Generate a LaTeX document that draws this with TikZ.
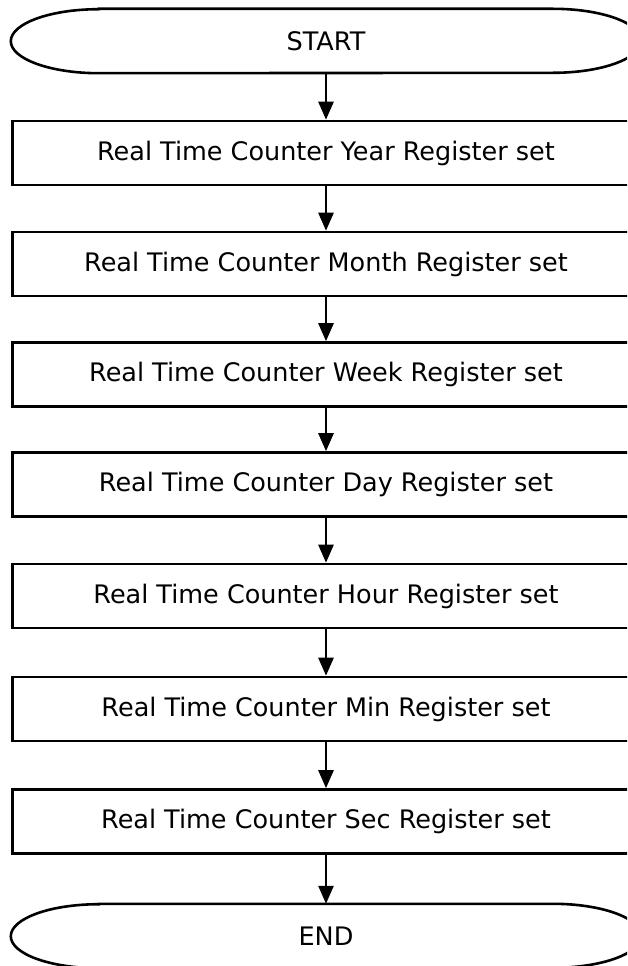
\documentclass[tikz,border=0pt]{standalone}
\usepackage{fontspec}
\setmainfont{DejaVu Sans}
\usetikzlibrary{arrows.meta}
\begin{document}
\begin{tikzpicture}[x=1pt,y=-1pt,
  every node/.style={font=\fontsize{25.5}{28}\selectfont},
  procbox/.style={draw=black,line width=2.6pt,minimum width=627pt,minimum height=64pt,inner sep=0pt},
  termnode/.style={minimum width=630pt,minimum height=64pt,inner sep=0pt},
  termline/.style={draw=black,line width=2.6pt},
  flow/.style={draw=black,line width=2.6pt,-{Triangle[width=15pt,length=18pt]}}]
\clip (0,0) rectangle (627,966);
\fill[white] (0,0) rectangle (627,966);

\node[termnode] (start) at (326,41) {START};
\node[procbox] (b1) at (326,153) {Real Time Counter Year Register set};
\node[procbox] (b2) at (326,264) {Real Time Counter Month Register set};
\node[procbox] (b3) at (326,374.5) {Real Time Counter Week Register set};
\node[procbox] (b4) at (326,484.5) {Real Time Counter Day Register set};
\node[procbox] (b5) at (326,596) {Real Time Counter Hour Register set};
\node[procbox] (b6) at (326,709) {Real Time Counter Min Register set};
\node[procbox] (b7) at (326,821.5) {Real Time Counter Sec Register set};
\node[termnode] (end) at (326,936) {END};

\foreach \t in {start,end}{
  \draw[termline] ([xshift=88pt]\t.north west) -- ([xshift=-88pt]\t.north east)
    arc[start angle=90,end angle=-90,x radius=88pt,y radius=32pt]
    -- ([xshift=88pt]\t.south west)
    arc[start angle=270,end angle=90,x radius=88pt,y radius=32pt] -- cycle;
}

\draw[flow] (start.south) -- (b1.north);
\draw[flow] (b1.south) -- (b2.north);
\draw[flow] (b2.south) -- (b3.north);
\draw[flow] (b3.south) -- (b4.north);
\draw[flow] (b4.south) -- (b5.north);
\draw[flow] (b5.south) -- (b6.north);
\draw[flow] (b6.south) -- (b7.north);
\draw[flow] (b7.south) -- (end.north);
\end{tikzpicture}
\end{document}
